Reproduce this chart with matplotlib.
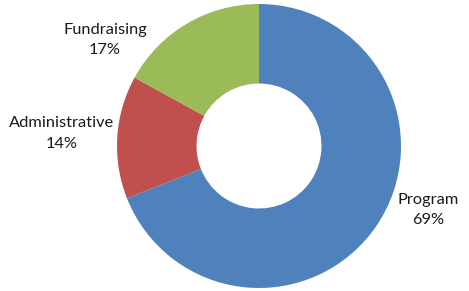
import matplotlib.pyplot as plt

# ---------------- DATA ----------------
categories = ["Program", "Administrative", "Fundraising"]
shares = [69, 14, 17]
colors = ["#4F81BD", "#C0504D", "#9BBB59"]

# label positions (data units, donut radius = 1)
label_pos = {
    "Program": (1.19, -0.45),
    "Administrative": (-1.387, 0.088),
    "Fundraising": (-1.085, 0.746),
}

W, H = 469, 291
cx, cy, r = 259, 146, 142

fig = plt.figure(figsize=(W / 100, H / 100), dpi=100)
ax = fig.add_axes([(cx - r) / W, (H - cy - r) / H, 2 * r / W, 2 * r / H])

ax.pie(shares, colors=colors, startangle=90, counterclock=False,
       radius=1.0, wedgeprops=dict(width=0.56, linewidth=0))
ax.set_xlim(-1, 1)
ax.set_ylim(-1, 1)
ax.set_aspect("equal")
ax.axis("off")

for cat, val in zip(categories, shares):
    x, y = label_pos[cat]
    ax.text(x, y, f"{cat}\n{val}%", ha="center", va="center",
            fontsize=11.8, family="Lato", color="#1a1a1a",
            linespacing=1.6, clip_on=False)

fig.savefig("out.png", dpi=100)
